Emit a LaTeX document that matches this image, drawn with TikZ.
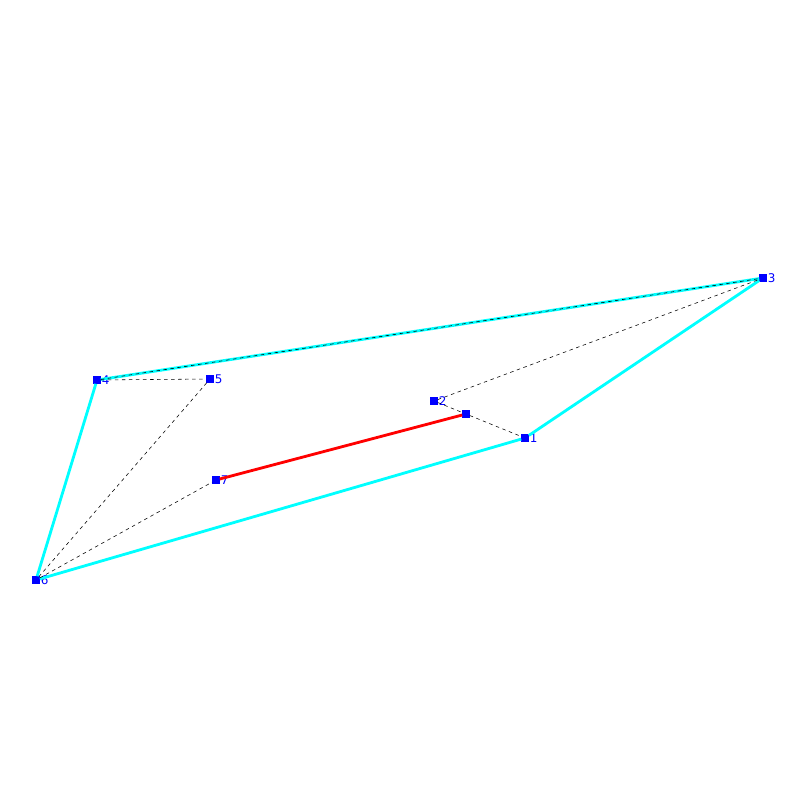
\documentclass[tikz,border=0pt]{standalone}
\usepackage{fontspec}
\setmainfont{DejaVu Sans}

\definecolor{hullcyan}{RGB}{0,255,255}
\definecolor{ptblue}{RGB}{0,0,255}
\definecolor{segred}{RGB}{255,0,0}

\tikzstyle{vertex}=[shape=rectangle,fill=ptblue,inner sep=0pt,minimum size=5pt,
  label distance=0.3pt]
\tikzstyle{vlabel}=[text=ptblue,font=\fontsize{8.5}{8.5}\selectfont,inner sep=0.5pt]
\tikzstyle{hulledge}=[hullcyan,line width=2pt]
\tikzstyle{thinedge}=[black,dashed,line width=0.4pt,dash pattern=on 2.5pt off 2.5pt]
\tikzstyle{mainedge}=[segred,line width=2pt]

\begin{document}
\begin{tikzpicture}[x=0.025cm,y=-0.025cm]
\useasboundingbox (0,0) rectangle (800,800);
% points
\node[vertex,label={[vlabel]right:1}] (p1) at (525,438) {};
\node[vertex,label={[vlabel]right:2}] (p2) at (434,401) {};
\node[vertex,label={[vlabel]right:3}] (p3) at (763,278) {};
\node[vertex,label={[vlabel]right:4}] (p4) at (97,380) {};
\node[vertex,label={[vlabel]right:5}] (p5) at (210,379) {};
\node[vertex,label={[vlabel]right:6}] (p6) at (36,580) {};
\node[vertex,label={[vlabel]right:7}] (p7) at (216,480) {};
\node[vertex] (p8) at (466,414) {};
% hull
\draw[hulledge] (p4) -- (p3);
\draw[hulledge] (p3) -- (p1);
\draw[hulledge] (p1) -- (p6);
\draw[hulledge] (p6) -- (p4);
% dashed edges
\draw[thinedge] (p4) -- (p3);
\draw[thinedge] (p4) -- (p5);
\draw[thinedge] (p5) -- (p6);
\draw[thinedge] (p6) -- (p7);
\draw[thinedge] (p2) -- (p3);
\draw[thinedge] (p2) -- (p8);
\draw[thinedge] (p8) -- (p1);
% red edge
\draw[mainedge] (p7) -- (p8);
\end{tikzpicture}
\end{document}
